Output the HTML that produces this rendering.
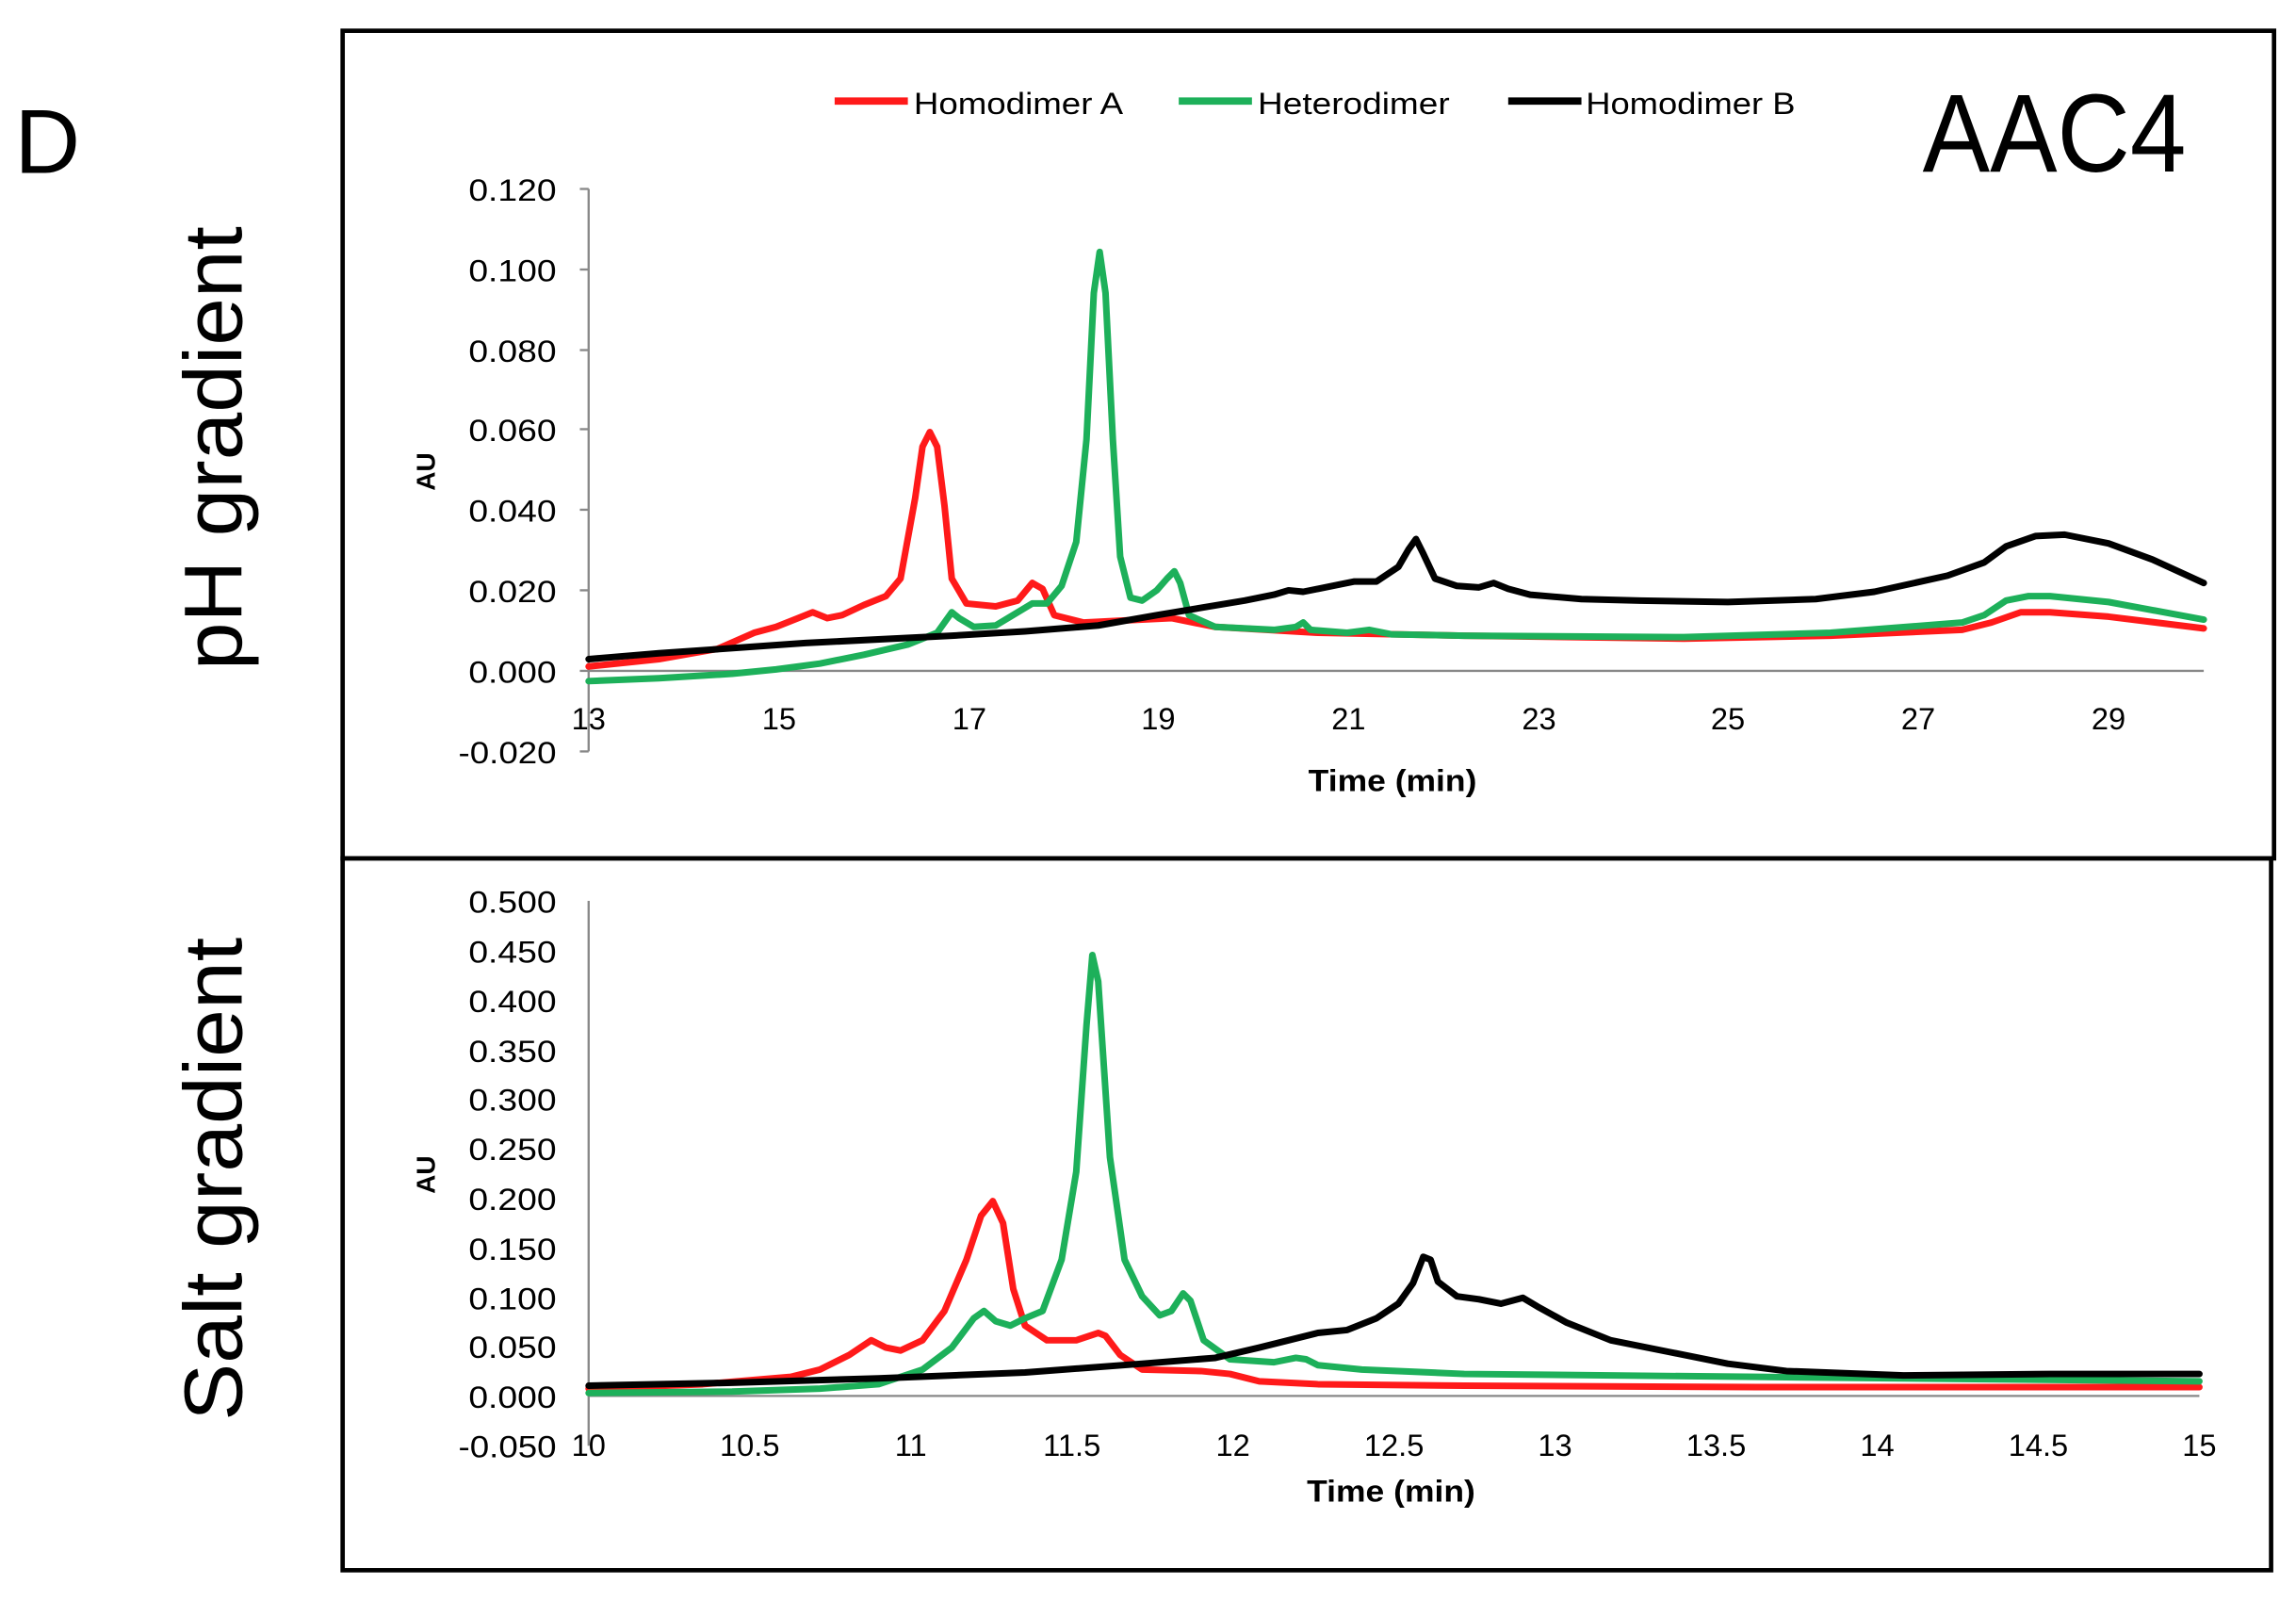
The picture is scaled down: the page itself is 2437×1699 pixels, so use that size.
<!DOCTYPE html>
<html><head><meta charset="utf-8"><style>
html,body{margin:0;padding:0;background:#fff}
svg{display:block}
text{font-family:"Liberation Sans",sans-serif}
</style></head><body>
<svg width="2437" height="1699" viewBox="0 0 1568 1093" preserveAspectRatio="none" xmlns="http://www.w3.org/2000/svg">
<rect width="1568" height="1093" fill="#fff"/>
<rect x="234" y="21" width="1319" height="565" fill="none" stroke="#000" stroke-width="3"/>
<rect x="234" y="586" width="1317" height="486" fill="none" stroke="#000" stroke-width="3"/>
<text x="10" y="118" font-size="62">D</text>
<text x="1313" y="117" font-size="76" textLength="180" lengthAdjust="spacingAndGlyphs">AAC4</text>
<text transform="translate(165,306) rotate(-90)" font-size="56" text-anchor="middle" textLength="303" lengthAdjust="spacingAndGlyphs">pH gradient</text>
<text transform="translate(165,805) rotate(-90)" font-size="56" text-anchor="middle" textLength="330" lengthAdjust="spacingAndGlyphs">Salt gradient</text>
<!-- legend -->
<line x1="570" y1="69" x2="620" y2="69" stroke="#ff1a1a" stroke-width="5"/>
<text x="624" y="78" font-size="21" textLength="143" lengthAdjust="spacingAndGlyphs">Homodimer A</text>
<line x1="805" y1="69" x2="855" y2="69" stroke="#1db05a" stroke-width="5"/>
<text x="859" y="78" font-size="21" textLength="131" lengthAdjust="spacingAndGlyphs">Heterodimer</text>
<line x1="1030" y1="69" x2="1080" y2="69" stroke="#000" stroke-width="5"/>
<text x="1083" y="78" font-size="21" textLength="143" lengthAdjust="spacingAndGlyphs">Homodimer B</text>
<!-- top axes -->
<g stroke="#888" stroke-width="1.5" fill="none">
<line x1="402" y1="129" x2="402" y2="513"/>
<line x1="402" y1="458" x2="1505" y2="458"/>
<line x1="396" y1="129" x2="402" y2="129"/><line x1="396" y1="184" x2="402" y2="184"/><line x1="396" y1="239" x2="402" y2="239"/><line x1="396" y1="293" x2="402" y2="293"/><line x1="396" y1="348" x2="402" y2="348"/><line x1="396" y1="403" x2="402" y2="403"/><line x1="396" y1="458" x2="402" y2="458"/><line x1="396" y1="513" x2="402" y2="513"/>
</g>
<g font-size="21" text-anchor="end" fill="#000">
<text x="380" y="137" textLength="60" lengthAdjust="spacingAndGlyphs">0.120</text><text x="380" y="192" textLength="60" lengthAdjust="spacingAndGlyphs">0.100</text><text x="380" y="247" textLength="60" lengthAdjust="spacingAndGlyphs">0.080</text><text x="380" y="301" textLength="60" lengthAdjust="spacingAndGlyphs">0.060</text><text x="380" y="356" textLength="60" lengthAdjust="spacingAndGlyphs">0.040</text><text x="380" y="411" textLength="60" lengthAdjust="spacingAndGlyphs">0.020</text><text x="380" y="466" textLength="60" lengthAdjust="spacingAndGlyphs">0.000</text><text x="380" y="521" textLength="67" lengthAdjust="spacingAndGlyphs">-0.020</text>
</g>
<g font-size="21" text-anchor="middle">
<text x="402" y="498">13</text><text x="532" y="498">15</text><text x="662" y="498">17</text><text x="791" y="498">19</text><text x="921" y="498">21</text><text x="1051" y="498">23</text><text x="1180" y="498">25</text><text x="1310" y="498">27</text><text x="1440" y="498">29</text>
</g>
<text x="951" y="540" font-size="21" font-weight="bold" text-anchor="middle" textLength="115" lengthAdjust="spacingAndGlyphs">Time (min)</text>
<text transform="translate(297,322) rotate(-90)" font-size="18" font-weight="bold" text-anchor="middle">AU</text>
<g fill="none" stroke-width="4.5" stroke-linejoin="round" stroke-linecap="round">
<polyline stroke="#ff1a1a" points="402,455 450,450 490,443 515,432 530,428 545,422 555,418 565,422 575,420 590,413 605,407 615,395 625,340 630,305 635,295 640,305 645,345 650,395 660,412 680,414 695,410 705,398 712,402 720,420 740,425 780,423 800,422 830,428 900,432 1000,434 1150,436 1250,434 1340,430 1360,425 1380,418 1400,418 1440,421 1505,429"/>
<polyline stroke="#1db05a" points="402,465 450,463 500,460 530,457 560,453 590,447 620,440 640,432 650,418 655,422 665,428 680,427 695,418 705,412 715,412 725,400 735,370 742,300 747,200 751,172 755,200 760,300 765,380 772,408 780,410 790,403 797,395 802,390 806,398 812,420 830,428 870,430 885,428 890,425 895,430 920,432 935,430 950,433 1000,434 1150,435 1250,432 1340,425 1355,420 1370,410 1385,407 1400,407 1440,411 1505,423"/>
<polyline stroke="#000" points="402,450 450,446 550,439 650,434 700,431 750,427 790,420 820,415 850,410 870,406 880,403 890,404 900,402 915,399 925,397 940,397 955,387 962,375 967,368 972,378 980,395 995,400 1010,401 1020,398 1030,402 1045,406 1080,409 1120,410 1180,411 1240,409 1280,404 1330,393 1355,384 1370,373 1390,366 1410,365 1440,371 1470,382 1505,398"/>
</g>
<!-- bottom axes -->
<g stroke="#888" stroke-width="1.5" fill="none">
<line x1="402" y1="615" x2="402" y2="987"/>
<line x1="402" y1="953" x2="1502" y2="953"/>
</g>
<g font-size="21" text-anchor="end">
<text x="380" y="623" textLength="60" lengthAdjust="spacingAndGlyphs">0.500</text><text x="380" y="657" textLength="60" lengthAdjust="spacingAndGlyphs">0.450</text><text x="380" y="691" textLength="60" lengthAdjust="spacingAndGlyphs">0.400</text><text x="380" y="725" textLength="60" lengthAdjust="spacingAndGlyphs">0.350</text><text x="380" y="758" textLength="60" lengthAdjust="spacingAndGlyphs">0.300</text><text x="380" y="792" textLength="60" lengthAdjust="spacingAndGlyphs">0.250</text><text x="380" y="826" textLength="60" lengthAdjust="spacingAndGlyphs">0.200</text><text x="380" y="860" textLength="60" lengthAdjust="spacingAndGlyphs">0.150</text><text x="380" y="894" textLength="60" lengthAdjust="spacingAndGlyphs">0.100</text><text x="380" y="927" textLength="60" lengthAdjust="spacingAndGlyphs">0.050</text><text x="380" y="961" textLength="60" lengthAdjust="spacingAndGlyphs">0.000</text><text x="380" y="995" textLength="67" lengthAdjust="spacingAndGlyphs">-0.050</text>
</g>
<g font-size="21" text-anchor="middle">
<text x="402" y="994">10</text><text x="512" y="994">10.5</text><text x="622" y="994">11</text><text x="732" y="994">11.5</text><text x="842" y="994">12</text><text x="952" y="994">12.5</text><text x="1062" y="994">13</text><text x="1172" y="994">13.5</text><text x="1282" y="994">14</text><text x="1392" y="994">14.5</text><text x="1502" y="994">15</text>
</g>
<text x="950" y="1025" font-size="21" font-weight="bold" text-anchor="middle" textLength="115" lengthAdjust="spacingAndGlyphs">Time (min)</text>
<text transform="translate(297,802) rotate(-90)" font-size="18" font-weight="bold" text-anchor="middle">AU</text>
<g fill="none" stroke-width="4.5" stroke-linejoin="round" stroke-linecap="round">
<polyline stroke="#ff1a1a" points="402,948 480,945 540,940 560,935 580,925 595,915 605,920 615,922 630,915 645,895 660,860 670,830 678,820 685,835 692,880 700,905 715,915 735,915 750,910 755,912 765,925 780,935 820,936 840,938 860,943 900,945 1000,946 1200,947 1502,947"/>
<polyline stroke="#1db05a" points="402,951 500,950 560,948 600,945 630,935 650,920 665,900 672,895 680,902 690,905 700,900 712,895 725,860 735,800 742,700 746,652 750,670 758,790 768,860 780,885 792,898 800,895 808,883 813,888 822,915 840,928 870,930 885,927 892,928 900,932 930,935 1000,938 1200,940 1502,943"/>
<polyline stroke="#000" points="402,946 500,944 600,941 700,937 780,931 830,927 860,920 880,915 900,910 920,908 940,900 955,890 965,876 972,858 977,860 982,875 995,885 1010,887 1025,890 1040,886 1050,892 1070,903 1100,915 1140,923 1180,931 1220,936 1300,939 1400,938 1502,938"/>
</g>
</svg>
</body></html>
